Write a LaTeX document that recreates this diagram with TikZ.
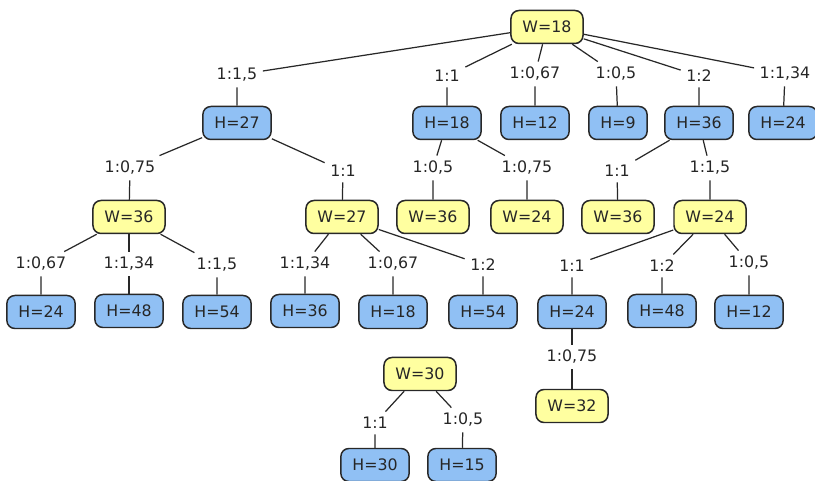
\documentclass[tikz,border=0pt]{standalone}
\usepackage{fontspec}
\setmainfont{DejaVu Sans}
\usepackage{tikz}
\usetikzlibrary{positioning}

\definecolor{hblue}{RGB}{144,192,244}
\definecolor{wyellow}{RGB}{255,255,160}
\definecolor{edgegray}{RGB}{40,40,40}

\begin{document}
\begin{tikzpicture}[
    font=\fontsize{9}{10}\selectfont,
    wbox/.style={draw=edgegray, line width=0.85pt, rounded corners=0.16cm, fill=wyellow, inner xsep=0.23cm, minimum height=0.66cm, text=black!85},
    hbox/.style={wbox, fill=hblue},
    ratio/.style={inner sep=3pt, text=black!85},
    con/.style={draw=edgegray, line width=0.7pt}
]
\useasboundingbox (0,0) rectangle (16.3,-9.62);

% root
\node[wbox] (w18) at (10.94,-0.54) {W=18};

% first level
\node[ratio] (r15a) at (4.74,-1.5) {1:1,5};
\node[ratio] (r1a) at (8.94,-1.52) {1:1};
\node[ratio] (r067a) at (10.7,-1.48) {1:0,67};
\node[ratio] (r05a) at (12.32,-1.48) {1:0,5};
\node[ratio] (r2a) at (13.98,-1.52) {1:2};
\node[ratio] (r134a) at (15.7,-1.48) {1:1,34};

\node[hbox] (h27) at (4.74,-2.46) {H=27};
\node[hbox] (h18a) at (8.94,-2.46) {H=18};
\node[hbox] (h12a) at (10.7,-2.46) {H=12};
\node[hbox] (h9) at (12.36,-2.46) {H=9};
\node[hbox] (h36a) at (13.98,-2.46) {H=36};
\node[hbox] (h24a) at (15.66,-2.46) {H=24};

% second level
\node[ratio] (r075a) at (2.6,-3.36) {1:0,75};
\node[ratio] (r1b) at (6.86,-3.42) {1:1};
\node[ratio] (r05b) at (8.66,-3.36) {1:0,5};
\node[ratio] (r075b) at (10.54,-3.36) {1:0,75};
\node[ratio] (r1c) at (12.34,-3.42) {1:1};
\node[ratio] (r15b) at (14.2,-3.36) {1:1,5};

\node[wbox] (w36a) at (2.58,-4.34) {W=36};
\node[wbox] (w27) at (6.84,-4.34) {W=27};
\node[wbox] (w36b) at (8.66,-4.34) {W=36};
\node[wbox] (w24a) at (10.54,-4.34) {W=24};
\node[wbox] (w36c) at (12.36,-4.34) {W=36};
\node[wbox] (w24b) at (14.2,-4.34) {W=24};

% third level
\node[ratio] (r067b) at (0.82,-5.28) {1:0,67};
\node[ratio] (r134b) at (2.58,-5.28) {1:1,34};
\node[ratio] (r15c) at (4.34,-5.3) {1:1,5};
\node[ratio] (r134c) at (6.1,-5.28) {1:1,34};
\node[ratio] (r067c) at (7.86,-5.28) {1:0,67};
\node[ratio] (r2b) at (9.66,-5.3) {1:2};
\node[ratio] (r1d) at (11.44,-5.32) {1:1};
\node[ratio] (r2c) at (13.24,-5.32) {1:2};
\node[ratio] (r05c) at (14.98,-5.26) {1:0,5};

\node[hbox] (h24b) at (0.82,-6.24) {H=24};
\node[hbox] (h48a) at (2.58,-6.22) {H=48};
\node[hbox] (h54a) at (4.34,-6.24) {H=54};
\node[hbox] (h36b) at (6.1,-6.22) {H=36};
\node[hbox] (h18b) at (7.86,-6.24) {H=18};
\node[hbox] (h54b) at (9.66,-6.24) {H=54};
\node[hbox] (h24c) at (11.44,-6.24) {H=24};
\node[hbox] (h48b) at (13.24,-6.22) {H=48};
\node[hbox] (h12b) at (14.98,-6.24) {H=12};

\node[ratio] (r075c) at (11.44,-7.14) {1:0,75};
\node[wbox] (w32) at (11.44,-8.12) {W=32};

% separate tree
\node[wbox] (w30) at (8.4,-7.48) {W=30};
\node[ratio] (r1e) at (7.5,-8.46) {1:1};
\node[ratio] (r05d) at (9.26,-8.4) {1:0,5};
\node[hbox] (h30) at (7.5,-9.3) {H=30};
\node[hbox] (h15) at (9.24,-9.3) {H=15};

% connectors
\foreach \a/\b/\c in {w18/r15a/h27, w18/r1a/h18a, w18/r067a/h12a, w18/r05a/h9,
    w18/r2a/h36a, w18/r134a/h24a,
    h27/r075a/w36a, h27/r1b/w27, h18a/r05b/w36b, h18a/r075b/w24a,
    h36a/r1c/w36c, h36a/r15b/w24b,
    w36a/r067b/h24b, w36a/r134b/h48a, w36a/r15c/h54a,
    w27/r134c/h36b, w27/r067c/h18b, w27/r2b/h54b,
    w24b/r1d/h24c, w24b/r2c/h48b, w24b/r05c/h12b,
    h24c/r075c/w32, w30/r1e/h30, w30/r05d/h15}
  \draw[con] (\a) -- (\b) (\b) -- (\c);
\end{tikzpicture}
\end{document}
